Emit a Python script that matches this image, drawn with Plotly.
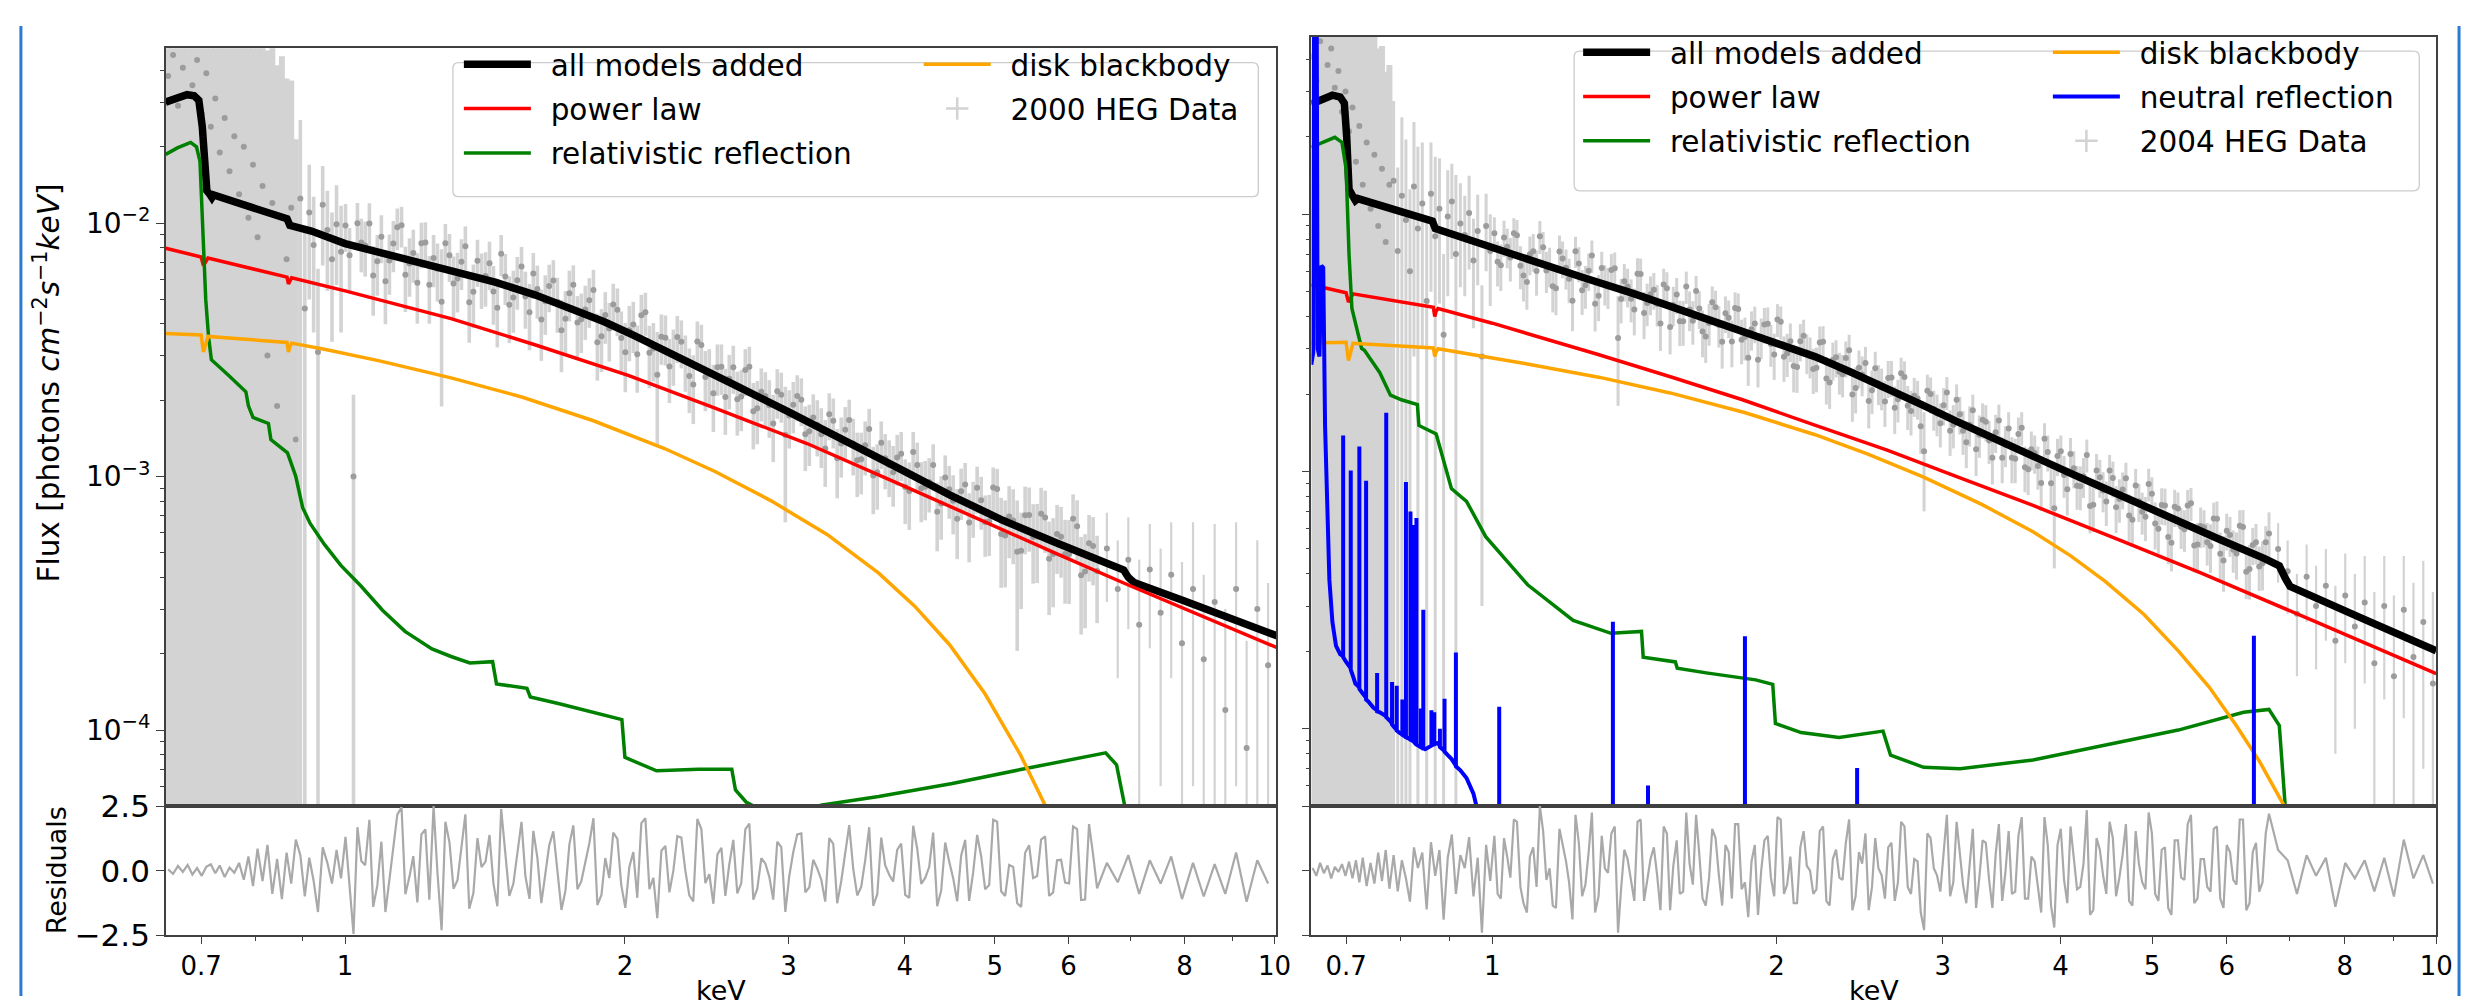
import numpy as np
import plotly.graph_objects as go

W, H = 2473, 1006


def px(x):
    return x / W


def py(y):
    return 1 - y / H


# ------------------------------------------------------------------ 2000 HEG data (left panel), bins set A
E_2000 = [
    0.645, 0.653, 0.661, 0.669, 0.677, 0.685, 0.693, 0.701, 0.709, 0.717,
    0.725, 0.733, 0.742, 0.751, 0.760, 0.769, 0.778, 0.787, 0.796, 0.805,
    0.815, 0.825, 0.835, 0.845, 0.855, 0.865, 0.875, 0.885,
    0.895, 0.905, 0.915, 0.925, 0.935, 0.946, 0.957, 0.968, 0.979, 0.990,
    1.001, 1.021, 1.041, 1.062, 1.083, 1.105, 1.127, 1.150, 1.173, 1.196,
    1.220, 1.245, 1.270, 1.295, 1.321, 1.347, 1.374, 1.402, 1.430, 1.458,
    1.487, 1.517, 1.548, 1.579, 1.610, 1.642, 1.675, 1.709, 1.743, 1.778,
    1.813, 1.850, 1.887, 1.924, 1.963, 2.002, 2.042, 2.083, 2.125, 2.167,
    2.211, 2.255, 2.300, 2.346, 2.393, 2.441, 2.490, 2.540, 2.590, 2.642,
    2.695, 2.749, 2.804, 2.860, 2.917, 2.976, 3.035, 3.096, 3.158, 3.221,
    3.285, 3.351, 3.418, 3.486, 3.556, 3.627, 3.700, 3.774, 3.849, 3.926,
    4.005, 4.085, 4.167, 4.250, 4.335, 4.422, 4.510, 4.600, 4.692, 4.786,
    4.882, 4.980, 5.079, 5.181, 5.285, 5.390, 5.498, 5.608, 5.720, 5.834,
    5.951, 6.070, 6.192, 6.315, 6.442,
    6.60, 6.78, 6.96, 7.15, 7.34, 7.54, 7.74, 7.95, 8.17, 8.39,
    8.62, 8.85, 9.09, 9.33, 9.58, 9.84,
]
F_2000 = [
    0.038, 0.046, 0.029, 0.041, 0.052, 0.035, 0.044, 0.027, 0.039, 0.024,
    0.031, 0.019, 0.026, 0.016, 0.022, 0.013, 0.020, 0.0105, 0.017, 0.0088,
    0.014, 0.0030, 0.012, 0.0019, 0.0105, 0.0072, 0.0115, 0.0014,
    0.0125, 0.0046, 0.0110, 0.0082, 0.0031, 0.0118, 0.0094, 0.0072, 0.0099, 0.0077,
    0.00979, 0.00100, 0.00839, 0.00996, 0.00707, 0.00589, 0.00830, 0.00981, 0.00692, 0.00581,
    0.00838, 0.00728, 0.00489, 0.00746, 0.00604, 0.00810, 0.00536, 0.00608, 0.00694, 0.00463,
    0.00615, 0.00509, 0.00674, 0.00445, 0.00549, 0.00492, 0.00594, 0.00378, 0.00529, 0.00405,
    0.00456, 0.00544, 0.00358, 0.00384, 0.00455, 0.00309, 0.00398, 0.00433, 0.00308, 0.00252,
    0.00353, 0.00304, 0.00340, 0.00249, 0.00341, 0.00247, 0.00213, 0.00271, 0.00243, 0.00202,
    0.00263, 0.00181, 0.00216, 0.00191, 0.00217, 0.00146, 0.00192, 0.00201, 0.00151, 0.00160,
    0.00129, 0.00166, 0.00135, 0.00167, 0.00116, 0.00133, 0.00101, 0.00136, 0.00111, 0.00119,
    0.000909, 0.00125, 0.000900, 0.000951, 0.000727, 0.000992, 0.000802, 0.000874, 0.000659, 0.000903,
    0.000662, 0.000906, 0.000594, 0.000696, 0.000505, 0.000703, 0.000578, 0.000713, 0.000474, 0.000593,
    0.000495, 0.000681, 0.000408, 0.000545, 0.000424,
    0.00052, 0.00036, 0.00047, 0.00026, 0.00043, 0.00029, 0.00041, 0.00022, 0.00036, 0.00019,
    0.00032, 0.00012, 0.00036, 0.000085, 0.00030, 0.00018,
]
ERR_2000 = [
    0.06, 0.06, 0.06, 0.06, 0.06, 0.06, 0.06, 0.06, 0.06, 0.05,
    0.05, 0.05, 0.05, 0.05, 0.05, 0.05, 0.05, 0.05, 0.05, 0.05,
    0.045, 0.045, 0.04, 0.04, 0.035, 0.03, 0.025, 0.02,
    0.013, 0.005, 0.006, 0.0045, 0.0035, 0.005, 0.004, 0.0038, 0.0042, 0.0040,
    0.0021, 0.0011, 0.0020, 0.0020, 0.0019, 0.0019, 0.0019, 0.0018, 0.0018, 0.0018,
    0.0017, 0.0017, 0.0030, 0.0016, 0.0016, 0.0016, 0.0015, 0.0015, 0.0015, 0.0014,
    0.0014, 0.0014, 0.0013, 0.0013, 0.0013, 0.0013, 0.0012, 0.0012, 0.0012, 0.0011,
    0.0011, 0.0011, 0.0010, 0.0010, 0.00097, 0.00094, 0.00091, 0.00088, 0.00085, 0.0012,
    0.00079, 0.00076, 0.00073, 0.00071, 0.00068, 0.00066, 0.00063, 0.00061, 0.00059, 0.00057,
    0.00055, 0.00053, 0.00051, 0.00049, 0.00048, 0.0008, 0.00044, 0.00043, 0.00041, 0.00040,
    0.00038, 0.00037, 0.00036, 0.00034, 0.00033, 0.00032, 0.00030, 0.00029, 0.00028, 0.00027,
    0.00026, 0.00025, 0.00024, 0.00023, 0.00022, 0.00022, 0.00021, 0.00020, 0.00020, 0.00019,
    0.00018, 0.00018, 0.00023, 0.00022, 0.00030, 0.00021, 0.00020, 0.00019, 0.00019, 0.00018,
    0.00018, 0.00017, 0.00017, 0.00016, 0.00016,
    0.00020, 0.00020, 0.00022, 0.00021, 0.00022, 0.00023, 0.00025, 0.00024, 0.00030, 0.00022,
    0.00033, 0.00018, 0.00030, 0.00014, 0.00026, 0.00020,
]
RES_2000 = [
    0.05, -0.12, 0.18, -0.05, 0.22, -0.15, 0.10, -0.20, 0.15, 0.25,
    -0.10, 0.20, -0.25, 0.12, -0.08, 0.30, -0.35, 0.55, -0.60, 0.85,
    -0.40, 1.00, -0.90, 0.45, -1.10, 0.70, -0.50, 1.20,
    0.6, -1.0, 0.5, -0.4, -1.6, 0.9, 0.3, -0.5, 0.8, -0.3,
    1.31, -2.45, 0.37, 1.97, -0.58, -1.60, 0.88, 2.45, -0.22, -1.23,
    1.60, 2.50, -2.30, 1.09, -0.37, 2.18, -0.88, 0.14, 1.38, -1.38,
    0.72, -0.51, 1.89, -1.09, 0.51, -0.14, 1.52, -1.52, 1.02, -0.72,
    0.29, 2.03, -0.94, -0.29, 1.23, -1.44, 0.72, 1.84, -0.72, -1.84,
    0.96, 0.0, 1.28, -0.96, 2.0, -0.48, -1.28, 0.88, 0.24, -0.88,
    1.6, -1.12, 0.48, -0.24, 1.12, -1.6, 0.72, 1.44, -0.64, 0.08,
    -1.2, 1.04, -0.4, 1.76, -0.96, 0.4, -1.36, 1.28, -0.16, 0.8,
    -0.94, 1.74, -0.51, 0.14, -1.38, 1.09, -0.29, 0.58, -1.17, 1.38,
    -0.72, 1.97, -0.8, 0.22, -1.26, 0.69, -0.29, 1.2, -0.98, 0.4,
    -0.46, 1.71, -1.14, 1.8, -0.69,
    0.3, -0.45, 0.6, -0.9, 0.4, -0.5, 0.55, -1.1, 0.3, -1.0,
    0.25, -0.9, 0.7, -1.2, 0.4, -0.5,
]

# ------------------------------------------------------------------ 2000 HEG data, bins set B (interleaved)
E_2000_B = [
    1.011, 1.031, 1.051, 1.072, 1.094, 1.116, 1.138, 1.161, 1.184, 1.208,
    1.232, 1.257, 1.282, 1.308, 1.334, 1.360, 1.388, 1.416, 1.444, 1.472,
    1.502, 1.532, 1.563, 1.594, 1.626, 1.658, 1.692, 1.726, 1.760, 1.795,
    1.831, 1.868, 1.905, 1.943, 1.982, 2.022, 2.062, 2.104, 2.146, 2.189,
    2.233, 2.277, 2.323, 2.369, 2.417, 2.465, 2.515, 2.565, 2.616, 2.668,
    2.722, 2.776, 2.832, 2.888, 2.946, 3.005, 3.065, 3.127, 3.189, 3.253,
    3.318, 3.384, 3.452, 3.521, 3.591, 3.663, 3.737, 3.811, 3.887, 3.965,
    4.045, 4.126, 4.208, 4.292, 4.378, 4.466, 4.555, 4.646, 4.739, 4.834,
    4.931, 5.029, 5.130, 5.233, 5.337, 5.444, 5.553, 5.664, 5.777, 5.892,
    6.010, 6.131, 6.253, 6.378,
]
F_2000_B = [
    0.00747, 0.00999, 0.00815, 0.00621, 0.00884, 0.00711, 0.00962, 0.00626, 0.00762, 0.00832,
    0.00571, 0.00660, 0.00832, 0.00578, 0.00704, 0.00487, 0.00710, 0.00618, 0.00537, 0.00757,
    0.00476, 0.00595, 0.00513, 0.00632, 0.00416, 0.00565, 0.00489, 0.00419, 0.00571, 0.00417,
    0.00496, 0.00339, 0.00434, 0.00477, 0.00352, 0.00378, 0.00304, 0.00445, 0.00320, 0.00356,
    0.00272, 0.00355, 0.00288, 0.00231, 0.00330, 0.00253, 0.00270, 0.00206, 0.00270, 0.00207,
    0.00271, 0.00186, 0.00208, 0.00162, 0.00210, 0.00174, 0.00208, 0.00147, 0.00171, 0.00147,
    0.00176, 0.00118, 0.00153, 0.00135, 0.00117, 0.00154, 0.00104, 0.00118, 0.00104, 0.00123,
    0.000876, 0.00111, 0.000912, 0.00111, 0.000783, 0.000891, 0.000682, 0.000931, 0.000763, 0.000807,
    0.000666, 0.000892, 0.000585, 0.000671, 0.000510, 0.000705, 0.000580, 0.000690, 0.000495, 0.000579,
    0.000494, 0.000636, 0.000422, 0.000532,
]
ERR_2000_B = [
    0.0021, 0.0020, 0.0020, 0.0019, 0.0019, 0.0019, 0.0018, 0.0018, 0.0018, 0.0017,
    0.0017, 0.0017, 0.0016, 0.0016, 0.0016, 0.0015, 0.0015, 0.0015, 0.0014, 0.0014,
    0.0014, 0.0014, 0.0013, 0.0013, 0.0013, 0.0012, 0.0012, 0.0012, 0.0011, 0.0011,
    0.0011, 0.0010, 0.0010, 0.00099, 0.00096, 0.00093, 0.00090, 0.00086, 0.00083, 0.00080,
    0.00077, 0.00075, 0.00072, 0.00070, 0.00067, 0.00065, 0.00062, 0.00060, 0.00058, 0.00056,
    0.00054, 0.00052, 0.00050, 0.00048, 0.00047, 0.00045, 0.00043, 0.00042, 0.00040, 0.00039,
    0.00037, 0.00036, 0.00035, 0.00034, 0.00032, 0.00031, 0.00030, 0.00029, 0.00028, 0.00027,
    0.00026, 0.00025, 0.00024, 0.00023, 0.00022, 0.00021, 0.00021, 0.00020, 0.00019, 0.00019,
    0.00018, 0.00018, 0.00022, 0.00022, 0.00021, 0.00020, 0.00020, 0.00019, 0.00019, 0.00018,
    0.00018, 0.00017, 0.00017, 0.00016,
]
RES_2000_B = [
    -0.63, 1.68, 0.21, -1.4, 1.12, -0.35, 2.17, -0.91, 0.56, 1.4,
    -1.12, -0.07, 1.89, -0.7, 0.84, -1.47, 1.26, 0.35, -0.49, 2.38,
    -0.98, 0.7, -0.21, 1.54, -1.26, 0.98, 0.07, -0.77, 1.75, -0.42,
    1.05, -1.33, 0.49, 1.47, -0.56, 0.14, -1.05, 2.03, -0.28, 0.77,
    -0.84, 1.33, 0.0, -1.19, 1.61, -0.14, 0.63, -0.98, 1.19, -0.49,
    1.82, -0.7, 0.28, -1.12, 0.91, -0.21, 1.4, -0.84, 0.42, -0.35,
    1.26, -1.26, 0.7, 0.07, -0.63, 1.68, -0.91, 0.21, -0.42, 1.05,
    -1.05, 0.84, -0.28, 1.47, -0.77, 0.35, -1.19, 1.19, -0.07, 0.56,
    -0.56, 1.89, -0.98, 0.14, -1.4, 0.98, -0.21, 1.33, -0.84, 0.42,
    -0.49, 1.61, -1.12, 0.63,
]

# ------------------------------------------------------------------ 2004 HEG data (right panel), bins set A
E_2004 = [
    0.645, 0.651, 0.657, 0.663, 0.669, 0.675, 0.681, 0.687, 0.693, 0.699,
    0.705, 0.711, 0.717, 0.723, 0.729, 0.736, 0.743, 0.750, 0.757, 0.764,
    0.771, 0.778,
    0.786, 0.794, 0.802, 0.810, 0.818, 0.826, 0.834, 0.843, 0.852, 0.861,
    0.870, 0.879, 0.888, 0.897, 0.906, 0.915, 0.925, 0.935, 0.945, 0.955,
    0.965, 0.975, 0.985, 0.995,
    1.005, 1.021, 1.037, 1.054, 1.071, 1.088, 1.105, 1.123, 1.141, 1.159,
    1.178, 1.197, 1.216, 1.235, 1.255, 1.275, 1.296, 1.316, 1.337, 1.359,
    1.380, 1.403, 1.425, 1.448, 1.471, 1.495, 1.519, 1.543, 1.568, 1.593,
    1.618, 1.644, 1.670, 1.697, 1.724, 1.752, 1.780, 1.808, 1.837, 1.867,
    1.897, 1.927, 1.958, 1.989, 2.021, 2.053, 2.086, 2.120, 2.154, 2.188,
    2.223, 2.259, 2.295, 2.332, 2.369, 2.407, 2.446, 2.485, 2.525, 2.565,
    2.606, 2.648, 2.690, 2.733, 2.777, 2.822, 2.867, 2.913, 2.959, 3.007,
    3.055, 3.104, 3.153, 3.204, 3.255, 3.307, 3.360, 3.414, 3.469, 3.524,
    3.581, 3.638, 3.696, 3.755, 3.815, 3.877, 3.939, 4.002, 4.066, 4.131,
    4.197, 4.264, 4.332, 4.402, 4.472, 4.544, 4.617, 4.691, 4.766, 4.842,
    4.920, 4.998, 5.078, 5.160, 5.242, 5.326, 5.411, 5.498, 5.586, 5.675,
    5.766, 5.858, 5.952, 6.047, 6.144, 6.242, 6.342, 6.443, 6.546, 6.651,
    6.80, 6.96, 7.12, 7.29, 7.46, 7.64, 7.82, 8.01, 8.20, 8.40,
    8.60, 8.81, 9.02, 9.24, 9.46, 9.69, 9.92,
]
F_2004 = [
    0.041, 0.033, 0.047, 0.028, 0.038, 0.044, 0.031, 0.036, 0.025, 0.030,
    0.021, 0.026, 0.016, 0.022, 0.013, 0.019, 0.0105, 0.017, 0.0090, 0.015,
    0.0078, 0.013,
    0.0135, 0.0072, 0.0118, 0.0095, 0.0060, 0.0128, 0.0088, 0.0110, 0.0046, 0.0120,
    0.0082, 0.0105, 0.0034, 0.0098, 0.0112, 0.0070, 0.0092, 0.0083, 0.0101, 0.0066,
    0.0086, 0.0028, 0.0090, 0.0072,
    0.00843, 0.00633, 0.00747, 0.00844, 0.00631, 0.00545, 0.00718, 0.00820, 0.00604, 0.00525,
    0.00716, 0.00619, 0.00461, 0.00643, 0.00529, 0.00691, 0.00482, 0.00537, 0.00607, 0.0033,
    0.00549, 0.00469, 0.00587, 0.00413, 0.00489, 0.00448, 0.00533, 0.00364, 0.00487, 0.00384,
    0.00426, 0.00503, 0.00350, 0.00378, 0.00435, 0.00319, 0.00396, 0.00432, 0.00325, 0.00277,
    0.00376, 0.00333, 0.00375, 0.00285, 0.00382, 0.00288, 0.00257, 0.00321, 0.00290, 0.00250,
    0.00317, 0.00230, 0.00271, 0.00244, 0.00276, 0.00199, 0.00253, 0.00264, 0.00207, 0.00220,
    0.00187, 0.00232, 0.00191, 0.00233, 0.00172, 0.00192, 0.00120, 0.00200, 0.00168, 0.00181,
    0.00144, 0.00190, 0.00144, 0.00152, 0.00122, 0.00159, 0.00132, 0.00142, 0.00113, 0.00147,
    0.00112, 0.00148, 0.00102, 0.00118, 0.000902, 0.00119, 0.00072, 0.00120, 0.000854, 0.00103,
    0.000877, 0.00116, 0.000743, 0.000950, 0.000764, 0.000943, 0.000782, 0.000942, 0.000649, 0.000767,
    0.000667, 0.000820, 0.000599, 0.000738, 0.000529, 0.000719, 0.000597, 0.000753, 0.000521, 0.000607,
    0.000513, 0.000655, 0.000451, 0.000566, 0.000480, 0.000608, 0.000418, 0.000531, 0.000440, 0.000574,
    0.00050, 0.00041, 0.00028, 0.00039, 0.00030, 0.00036, 0.00022, 0.00033, 0.00025, 0.00031,
    0.00018, 0.00030, 0.00016, 0.00029, 0.00019, 0.00026, 0.00015,
]
ERR_2004 = [
    0.06, 0.06, 0.06, 0.06, 0.06, 0.06, 0.06, 0.06, 0.06, 0.06,
    0.05, 0.05, 0.05, 0.05, 0.05, 0.05, 0.045, 0.04, 0.035, 0.03,
    0.028, 0.025,
    0.014, 0.008, 0.012, 0.010, 0.0065, 0.010, 0.0095, 0.008, 0.005, 0.007,
    0.0085, 0.006, 0.0036, 0.005, 0.0045, 0.0072, 0.004, 0.0035, 0.004, 0.003,
    0.0033, 0.0025, 0.003, 0.0028,
    0.0013, 0.0013, 0.0013, 0.0012, 0.0012, 0.0012, 0.0012, 0.0012, 0.0011, 0.0011,
    0.0011, 0.0011, 0.0011, 0.0010, 0.0010, 0.0010, 0.00098, 0.00096, 0.00094, 0.0015,
    0.00091, 0.00089, 0.00087, 0.00086, 0.00084, 0.00082, 0.00081, 0.00079, 0.00078, 0.00076,
    0.00075, 0.00073, 0.00072, 0.00070, 0.00069, 0.00068, 0.00066, 0.00065, 0.00064, 0.00062,
    0.00061, 0.00060, 0.00059, 0.00058, 0.00056, 0.00055, 0.00054, 0.00053, 0.00051, 0.00050,
    0.00049, 0.00048, 0.00046, 0.00045, 0.00044, 0.00043, 0.00042, 0.00041, 0.00040, 0.00039,
    0.00038, 0.00037, 0.00036, 0.00035, 0.00034, 0.00033, 0.0005, 0.00032, 0.00031, 0.00030,
    0.00029, 0.00028, 0.00028, 0.00027, 0.00026, 0.00025, 0.00025, 0.00024, 0.00023, 0.00023,
    0.00022, 0.00022, 0.00021, 0.00020, 0.00020, 0.00019, 0.0003, 0.00018, 0.00018, 0.00017,
    0.00017, 0.00017, 0.00016, 0.00016, 0.00015, 0.00015, 0.00015, 0.00014, 0.00014, 0.00013,
    0.00013, 0.00013, 0.00012, 0.00012, 0.00012, 0.00011, 0.00011, 0.00011, 0.00011, 0.00010,
    0.00011, 0.00011, 0.00011, 0.00010, 0.00010, 0.00010, 0.00010, 0.000095, 0.000095, 0.00012,
    0.00013, 0.00013, 0.00012, 0.00013, 0.00013, 0.00014, 0.00014, 0.00015, 0.00015, 0.00016,
    0.00016, 0.00017, 0.00017, 0.00018, 0.00018, 0.00019, 0.00019,
]
RES_2004 = [
    0.1, -0.2, 0.3, -0.1, 0.2, -0.3, 0.15, -0.05, 0.25, -0.2,
    0.35, -0.3, 0.4, -0.45, 0.5, -0.6, 0.3, -0.5, 0.7, -0.4,
    0.8, -0.7,
    0.6, -0.8, 0.4, -0.3, -1.2, 0.9, 0.1, 0.7, -1.5, 1.1,
    -0.2, 0.8, -1.9, 0.5, 1.4, -0.9, 0.6, 0.1, 1.3, -1.0,
    0.5, -2.4, 1.0, -0.4,
    1.35, -1.08, 0.54, 1.98, -0.63, -1.62, 0.9, 2.5, -0.36, -1.35,
    1.62, 0.36, -1.89, 1.08, -0.54, 2.25, -0.99, 0.09, 1.44, -2.4,
    0.81, -0.45, 1.89, -1.17, 0.45, -0.18, 1.71, -1.53, 1.17, -0.81,
    0.27, 2.16, -1.08, -0.27, 1.26, -1.35, 0.72, 1.8, -0.72, -1.8,
    0.99, 0.0, 1.35, -0.99, 1.98, -0.54, -1.26, 0.9, 0.18, -0.9,
    1.53, -1.17, 0.45, -0.27, 1.08, -1.53, 0.72, 1.44, -0.63, 0.09,
    -1.08, 1.08, -0.45, 1.71, -0.9, 0.36, -2.3, 1.26, -0.18, 0.81,
    -0.99, 1.89, -0.54, 0.18, -1.44, 1.17, -0.36, 0.63, -1.17, 1.53,
    -0.81, 2.07, -1.08, 0.36, -1.62, 0.99, -2.2, 1.62, -1.26, 0.54,
    -0.63, 2.34, -1.53, 0.81, -0.9, 1.26, -0.27, 1.8, -1.35, 0.27,
    -0.72, 1.44, -1.17, 0.9, -1.71, 1.17, -0.36, 2.16, -1.08, 0.45,
    -0.81, 1.71, -1.44, 0.72, -0.54, 1.98, -1.26, 1.08, -0.45, 2.2,
    0.8, 0.4, -0.9, 0.6, -0.2, 0.5, -1.4, 0.3, -0.3, 0.4,
    -0.8, 0.5, -1.0, 1.2, -0.3, 0.6, -0.5,
]

# ------------------------------------------------------------------ 2004 HEG data, bins set B (interleaved)
E_2004_B = [
    1.013, 1.029, 1.045, 1.062, 1.079, 1.096, 1.114, 1.132, 1.150, 1.168,
    1.187, 1.206, 1.225, 1.245, 1.265, 1.285, 1.306, 1.326, 1.348, 1.369,
    1.391, 1.414, 1.436, 1.459, 1.483, 1.507, 1.531, 1.555, 1.580, 1.605,
    1.631, 1.657, 1.683, 1.710, 1.738, 1.766, 1.794, 1.822, 1.852, 1.882,
    1.912, 1.942, 1.973, 2.005, 2.037, 2.069, 2.103, 2.137, 2.171, 2.205,
    2.241, 2.277, 2.313, 2.350, 2.388, 2.426, 2.465, 2.505, 2.545, 2.585,
    2.627, 2.669, 2.711, 2.755, 2.799, 2.844, 2.890, 2.936, 2.983, 3.031,
    3.079, 3.128, 3.178, 3.229, 3.281, 3.333, 3.387, 3.441, 3.496, 3.552,
    3.609, 3.667, 3.725, 3.785, 3.846, 3.908, 3.970, 4.034, 4.098, 4.164,
    4.230, 4.298, 4.367, 4.437, 4.508, 4.580, 4.654, 4.728, 4.804, 4.881,
    4.959, 5.038, 5.119, 5.201, 5.284, 5.368, 5.454, 5.542, 5.630, 5.720,
    5.812, 5.905, 5.999, 6.095, 6.193, 6.292, 6.392, 6.494, 6.598,
]
F_2004_B = [
    0.00653, 0.00812, 0.00678, 0.00829, 0.00578, 0.00699, 0.00602, 0.00743, 0.00630, 0.00515,
    0.00673, 0.00561, 0.00718, 0.00506, 0.00603, 0.00449, 0.00618, 0.00523, 0.00616, 0.00468,
    0.00524, 0.00426, 0.00586, 0.00452, 0.00508, 0.00376, 0.00515, 0.00444, 0.00384, 0.00523,
    0.00385, 0.00430, 0.00335, 0.00455, 0.00371, 0.00412, 0.00320, 0.00428, 0.00333, 0.00357,
    0.00272, 0.00373, 0.00313, 0.00390, 0.00279, 0.00321, 0.00255, 0.00337, 0.00281, 0.00253,
    0.00319, 0.00222, 0.00278, 0.00239, 0.00296, 0.00211, 0.00238, 0.00188, 0.00252, 0.00212,
    0.00231, 0.00177, 0.00241, 0.00180, 0.00197, 0.00150, 0.00206, 0.00175, 0.00154, 0.00203,
    0.00152, 0.00167, 0.00130, 0.00173, 0.00139, 0.00156, 0.00113, 0.00158, 0.00127, 0.00113,
    0.00140, 0.00104, 0.00122, 0.00105, 0.00134, 0.000901, 0.00115, 0.000970, 0.00117, 0.000880,
    0.000959, 0.000735, 0.00101, 0.000844, 0.00101, 0.000727, 0.000852, 0.000674, 0.000883, 0.000698,
    0.000895, 0.000628, 0.000741, 0.000556, 0.000729, 0.000610, 0.000738, 0.000516, 0.000614, 0.000531,
    0.000657, 0.000479, 0.000589, 0.000497, 0.000616, 0.000408, 0.000518, 0.000427, 0.000531,
]
ERR_2004_B = [
    0.0013, 0.0013, 0.0013, 0.0012, 0.0012, 0.0012, 0.0012, 0.0011, 0.0011, 0.0011,
    0.0011, 0.0011, 0.0010, 0.0010, 0.0010, 0.00099, 0.00097, 0.00095, 0.00093, 0.00092,
    0.00090, 0.00088, 0.00086, 0.00085, 0.00083, 0.00082, 0.00080, 0.00078, 0.00077, 0.00075,
    0.00074, 0.00072, 0.00071, 0.00069, 0.00068, 0.00067, 0.00066, 0.00064, 0.00063, 0.00062,
    0.00060, 0.00059, 0.00058, 0.00057, 0.00056, 0.00055, 0.00053, 0.00052, 0.00051, 0.00050,
    0.00048, 0.00047, 0.00046, 0.00045, 0.00044, 0.00043, 0.00042, 0.00041, 0.00040, 0.00039,
    0.00038, 0.00037, 0.00036, 0.00035, 0.00034, 0.00033, 0.00032, 0.00031, 0.00030, 0.00030,
    0.00029, 0.00028, 0.00027, 0.00026, 0.00026, 0.00025, 0.00024, 0.00024, 0.00023, 0.00023,
    0.00022, 0.00021, 0.00021, 0.00020, 0.00020, 0.00019, 0.00019, 0.00018, 0.00018, 0.00017,
    0.00017, 0.00016, 0.00016, 0.00015, 0.00015, 0.00015, 0.00014, 0.00014, 0.00014, 0.00013,
    0.00013, 0.00013, 0.00012, 0.00012, 0.00012, 0.00011, 0.00011, 0.00011, 0.00011, 0.00010,
    0.00010, 0.00010, 0.000096, 0.000093, 0.000091, 0.000089, 0.000086, 0.000084, 0.000082,
]
RES_2004_B = [
    -0.9, 1.26, -0.27, 1.89, -1.26, 0.54, -0.63, 1.53, 0.09, -1.44,
    1.08, -0.45, 2.16, -0.99, 0.72, -1.62, 1.35, -0.09, 1.71, -0.72,
    0.45, -1.17, 1.98, -0.36, 0.9, -1.53, 1.44, 0.18, -0.9, 2.25,
    -0.54, 0.63, -1.35, 1.62, -0.18, 0.99, -1.08, 1.8, -0.45, 0.36,
    -1.71, 1.17, -0.27, 2.07, -0.9, 0.54, -1.26, 1.53, 0.0, -0.72,
    1.71, -1.35, 0.81, -0.36, 1.98, -0.99, 0.27, -1.53, 1.26, -0.18,
    0.9, -1.17, 1.89, -0.63, 0.45, -1.62, 1.44, 0.09, -0.81, 2.16,
    -0.45, 0.72, -1.26, 1.62, -0.27, 1.08, -1.44, 1.8, -0.09, -0.9,
    1.35, -1.08, 0.54, -0.54, 2.07, -1.35, 0.99, -0.36, 1.71, -0.72,
    0.27, -1.71, 1.26, -0.18, 1.89, -0.99, 0.63, -1.17, 1.53, -0.45,
    2.25, -0.9, 0.81, -1.44, 1.17, -0.27, 1.8, -1.26, 0.45, -0.63,
    1.62, -1.08, 0.99, -0.36, 1.98, -1.53, 0.72, -0.81, 1.44,
]

# ------------------------------------------------------------------ model components, 2000
E_TOT_2000 = [0.641, 0.660, 0.676, 0.688, 0.696, 0.702, 0.706, 0.710, 0.715, 0.719,
              0.722, 0.765, 0.820, 0.866, 0.872, 0.920, 1.0, 1.15, 1.3, 1.45,
              1.6, 1.75, 1.9, 2.05, 2.2, 2.4, 2.63, 3.0, 3.43, 3.9,
              4.47, 5.1, 5.82, 6.3, 6.70, 6.88, 6.96, 7.06, 8.0, 9.0,
              10.1]
F_TOT_2000 = [0.0300, 0.0312, 0.0321, 0.0318, 0.0305, 0.0240, 0.0160, 0.0134, 0.0130, 0.0126,
              0.0129, 0.0120, 0.0112, 0.0104, 0.0098, 0.0093, 0.0083, 0.00727, 0.00647, 0.00585,
              0.00521, 0.00462, 0.00408, 0.00359, 0.00317, 0.00270, 0.00229, 0.00180, 0.00141, 0.00110,
              0.000847, 0.000672, 0.000548, 0.000488, 0.000448, 0.000428, 0.000400, 0.000382, 0.000323, 0.000273,
              0.000234]
E_PL_2000 = [0.641, 0.700, 0.704, 0.707, 0.712, 0.866, 0.869, 0.872, 0.876, 1.0,
             1.15, 1.3, 1.6, 2.02, 2.5, 3.14, 4.0, 4.88, 5.8, 6.94,
             8.3, 10.1]
F_PL_2000 = [0.00796, 0.00735, 0.00680, 0.00700, 0.00728, 0.00612, 0.00575, 0.00590, 0.00608, 0.00540,
             0.00471, 0.00420, 0.00331, 0.00250, 0.00186, 0.00135, 0.000915, 0.000660, 0.000500, 0.000375,
             0.000285, 0.000210]
E_REL_2000 = [0.641, 0.660, 0.682, 0.692, 0.698, 0.703, 0.708, 0.713, 0.718, 0.749,
              0.782, 0.787, 0.796, 0.827, 0.832, 0.867, 0.885, 0.900, 0.917, 0.950,
              0.989, 1.04, 1.097, 1.16, 1.24, 1.30, 1.362, 1.441, 1.455, 1.569,
              1.582, 1.70, 1.807, 1.985, 2.0, 2.163, 2.40, 2.606, 2.63, 2.70,
              2.81, 2.95, 3.10, 3.25, 3.75, 4.5, 5.33, 6.0, 6.58, 6.76,
              6.90, 6.97]
F_REL_2000 = [0.01867, 0.0198, 0.0208, 0.0200, 0.0175, 0.0100, 0.0050, 0.00356, 0.00289, 0.00251,
              0.00216, 0.00190, 0.00171, 0.00162, 0.00140, 0.00124, 0.00100, 0.000755, 0.000653, 0.00054,
              0.000447, 0.00037, 0.000297, 0.000245, 0.000209, 0.000195, 0.000184, 0.000186, 0.000152, 0.000146,
              0.000135, 0.000127, 0.000120, 0.000110, 0.000078, 0.000069, 0.0000700, 0.0000700, 0.000058, 0.000052,
              0.0000480, 0.000044, 0.000045, 0.0000505, 0.0000547, 0.0000615, 0.0000698, 0.0000760, 0.0000813, 0.0000729,
              0.000050, 0.000030]
E_DBB_2000 = [0.641, 0.700, 0.704, 0.707, 0.712, 0.866, 0.869, 0.872, 0.876, 0.95,
              1.089, 1.3, 1.549, 1.85, 2.206, 2.5, 2.873, 3.3, 3.75, 4.1,
              4.47, 4.88, 5.33, 5.72, 6.1]
F_DBB_2000 = [0.00367, 0.00362, 0.00310, 0.00330, 0.00357, 0.00338, 0.00310, 0.00325, 0.00336, 0.00318,
              0.00286, 0.00245, 0.00206, 0.00166, 0.00129, 0.001047, 0.000802, 0.000591, 0.000416, 0.000308,
              0.000217, 0.000139, 0.0000796, 0.0000469, 0.0000268]

# ------------------------------------------------------------------ model components, 2004
E_TOT_2004 = [0.643, 0.660, 0.677, 0.690, 0.697, 0.701, 0.705, 0.712, 0.716, 0.720,
              0.815, 0.864, 0.870, 1.082, 1.25, 1.412, 1.70, 2.01, 2.2, 2.4,
              2.62, 2.85, 3.10, 3.4, 3.74, 4.1, 4.50, 4.9, 5.33, 5.9,
              6.59, 6.82, 6.92, 7.00, 8.3, 10.0]
F_TOT_2004 = [0.0268, 0.0280, 0.0290, 0.0285, 0.0270, 0.0200, 0.0125, 0.0117, 0.0113, 0.0115,
              0.0100, 0.0094, 0.0088, 0.0067, 0.00566, 0.00491, 0.00390, 0.00316, 0.00279, 0.00243,
              0.00211, 0.00182, 0.00157, 0.00134, 0.00114, 0.000983, 0.000846, 0.000733, 0.000637, 0.000544,
              0.000458, 0.000430, 0.000385, 0.000358, 0.000271, 0.000201]
E_PL_2004 = [0.643, 0.700, 0.704, 0.707, 0.712, 0.866, 0.869, 0.872, 0.876, 1.0,
             1.292, 1.55, 1.841, 2.2, 2.62, 3.1, 3.74, 4.6, 5.63, 7.5,
             10.0]
F_PL_2004 = [0.00532, 0.00495, 0.00455, 0.00470, 0.00490, 0.00435, 0.00400, 0.00420, 0.00430, 0.00377,
             0.002855, 0.002324, 0.00190, 0.00151, 0.00121, 0.000957, 0.000738, 0.000545, 0.000404, 0.000258,
             0.000164]
E_REL_2004 = [0.643, 0.660, 0.681, 0.693, 0.700, 0.705, 0.710, 0.727, 0.732, 0.760,
              0.780, 0.801, 0.833, 0.836, 0.872, 0.905, 0.939, 0.984, 1.09, 1.218,
              1.336, 1.439, 1.445, 1.563, 1.570, 1.685, 1.901, 1.982, 1.995, 2.124,
              2.33, 2.594, 2.642, 2.864, 3.13, 3.74, 4.46, 5.33, 6.25, 6.65,
              6.82, 6.95]
F_REL_2004 = [0.0182, 0.0190, 0.0199, 0.0190, 0.0150, 0.0070, 0.0043, 0.00301, 0.00296, 0.00242,
              0.00198, 0.00190, 0.00182, 0.00151, 0.00140, 0.000859, 0.000766, 0.000558, 0.000363, 0.000264,
              0.000235, 0.000239, 0.000190, 0.000182, 0.000172, 0.000165, 0.000155, 0.000149, 0.000105, 0.0000967,
              0.0000926, 0.0000980, 0.0000790, 0.0000709, 0.0000700, 0.0000757, 0.0000866, 0.0000989, 0.000116, 0.000119,
              0.000103, 0.0000400]
E_DBB_2004 = [0.643, 0.700, 0.704, 0.707, 0.712, 0.866, 0.869, 0.872, 0.876, 1.082,
              1.3, 1.543, 1.85, 2.198, 2.5, 2.864, 3.3, 3.74, 4.1, 4.46,
              4.9, 5.33, 5.75, 6.14, 6.5, 6.89, 7.10]
F_DBB_2004 = [0.00316, 0.00318, 0.00270, 0.00290, 0.00315, 0.00302, 0.00280, 0.00292, 0.00300, 0.00263,
              0.002321, 0.00202, 0.001695, 0.00139, 0.001169, 0.000951, 0.000745, 0.000583, 0.000470, 0.000374,
              0.000279, 0.000201, 0.000145, 0.000103, 0.0000746, 0.0000508, 0.0000400]
E_NR_2004 = [0.643, 0.646, 0.648, 0.651, 0.653, 0.656, 0.659, 0.662, 0.665, 0.668,
             0.672, 0.677, 0.683, 0.690, 0.695, 0.695, 0.695, 0.700, 0.704, 0.708,
             0.708, 0.708, 0.712, 0.716, 0.723, 0.723, 0.723, 0.728, 0.735, 0.735,
             0.735, 0.740, 0.748, 0.755, 0.755, 0.755, 0.760, 0.766, 0.772, 0.772,
             0.772, 0.778, 0.783, 0.783, 0.783, 0.788, 0.792, 0.792, 0.792, 0.797,
             0.803, 0.803, 0.803, 0.806, 0.810, 0.810, 0.810, 0.814, 0.819, 0.819,
             0.819, 0.823, 0.826, 0.826, 0.826, 0.828, 0.831, 0.831, 0.831, 0.835,
             0.840, 0.840, 0.840, 0.845, 0.845, 0.845, 0.850, 0.858, 0.862, 0.862,
             0.862, 0.868, 0.868, 0.868, 0.875, 0.880, 0.880, 0.880, 0.890, 0.890,
             0.890, 0.897, 0.905, 0.915, 0.915, 0.915, 0.925, 0.939, 0.955, 0.965,
             0.980, 1.017, 1.017, 1.017, 1.342, 1.342, 1.342, 1.462, 1.462, 1.462,
             1.852, 1.852, 1.852, 2.435, 2.435, 2.435, 6.41, 6.41, 6.41, 10.0]
F_NR_2004 = [0.0026, 0.0029, 0.2, 0.2, 0.0030, 0.0028, 0.0063, 0.0062, 0.0015, 0.00070,
             0.00038, 0.00026, 0.00021, 0.000195, 0.000192, 0.00138, 0.000190, 0.000182, 0.000178, 0.000172,
             0.00101, 0.000170, 0.000160, 0.000150, 0.000145, 0.00125, 0.000143, 0.000138, 0.000132, 0.00092,
             0.000130, 0.000127, 0.000121, 0.000118, 0.000165, 0.000117, 0.000116, 0.000114, 0.000112, 0.00169,
             0.000111, 0.000108, 0.000105, 0.000152, 0.000104, 0.000101, 0.0000990, 0.000147, 0.0000985, 0.0000966,
             0.0000950, 0.000130, 0.0000948, 0.0000940, 0.0000930, 0.00091, 0.0000928, 0.0000920, 0.0000910, 0.00070,
             0.0000908, 0.0000900, 0.0000890, 0.00062, 0.0000888, 0.0000880, 0.0000870, 0.00066, 0.0000868, 0.0000860,
             0.0000850, 0.000120, 0.0000848, 0.0000840, 0.00029, 0.0000838, 0.0000835, 0.0000850, 0.0000860, 0.000118,
             0.0000862, 0.0000870, 0.000116, 0.0000872, 0.0000880, 0.0000860, 0.000100, 0.0000850, 0.0000820, 0.000131,
             0.0000815, 0.0000790, 0.0000765, 0.0000720, 0.000198, 0.0000715, 0.0000690, 0.0000644, 0.0000560, 0.0000480,
             0.0000380, 0.0000300, 0.000122, 0.0000300, 0.0000300, 0.000261, 0.0000300, 0.0000300, 0.0000603, 0.0000300,
             0.0000300, 0.000229, 0.0000300, 0.0000300, 0.0000705, 0.0000300, 0.0000300, 0.000230, 0.0000300, 0.0000300]

# ------------------------------------------------------------------ axis ticks
X_TICKS = [0.7, 1, 2, 3, 4, 5, 6, 8, 10]
X_TICKTEXT = ["0.7", "1", "2", "3", "4", "5", "6", "8", "10"]
X_MINOR = [0.8, 0.9, 7, 9]
Y_TICKS = [1e-4, 1e-3, 1e-2]
Y_TICKTEXT = ["10<sup>−4</sup>", "10<sup>−3</sup>", "10<sup>−2</sup>"]
Y_MINOR = [6e-5, 7e-5, 8e-5, 9e-5, 2e-4, 3e-4, 4e-4, 5e-4, 6e-4, 7e-4, 8e-4, 9e-4,
           2e-3, 3e-3, 4e-3, 5e-3, 6e-3, 7e-3, 8e-3, 9e-3, 2e-2, 3e-2, 4e-2]
R_TICKS = [-2.5, 0.0, 2.5]
R_TICKTEXT = ["−2.5", "0.0", "2.5"]

# ------------------------------------------------------------------ styling
FONT = "DejaVu Sans"
C_TOT, C_PL, C_REL, C_DBB, C_NR = "#000000", "#ff0000", "#008000", "#ffa500", "#0000ff"
C_DOT, C_ERR = "#9c9c9c", "#d3d3d3"
C_AX = "#404040"

fig = go.Figure()


def merged(*cols):
    arrs = [np.concatenate([np.asarray(a, dtype=float) for a in c]) for c in cols]
    order = np.argsort(arrs[0], kind="stable")
    return [a[order] for a in arrs]


def add_data(E, F, ERR, cut_lo, cut_hi, th_mid, xa, ya):
    parts = ((E < cut_lo, 6), ((E >= cut_lo) & (E < cut_hi), th_mid), (E >= cut_hi, 2.2))
    for mask, th in parts:
        fig.add_trace(go.Scatter(
            x=E[mask], y=F[mask], mode="markers", xaxis=xa, yaxis=ya,
            marker=dict(color=C_DOT, size=6),
            error_y=dict(type="data", array=ERR[mask], color=C_ERR, thickness=th, width=0),
            showlegend=False, hoverinfo="skip"))


def add_resid(E, R, xa, ya):
    fig.add_trace(go.Scatter(x=E, y=R, mode="lines", xaxis=xa, yaxis=ya,
                             line=dict(color="#a9a9a9", width=2.2),
                             showlegend=False, hoverinfo="skip"))


def add_model(E, F, name, color, width, xa, ya, legend, group):
    fig.add_trace(go.Scatter(x=E, y=F, mode="lines", name=name, xaxis=xa, yaxis=ya,
                             line=dict(color=color, width=width),
                             legend=legend, legendgroup=group, hoverinfo="skip"))


def add_data_key(name, legend, group):
    fig.add_trace(go.Scatter(x=[None], y=[None], mode="markers", name=name,
                             marker=dict(symbol="cross-thin", size=16, color=C_ERR,
                                         line=dict(color=C_ERR, width=2.5)),
                             legend=legend, legendgroup=group, xaxis="x", yaxis="y"))


E00, F00, ER00, R00 = merged((E_2000, E_2000_B), (F_2000, F_2000_B),
                             (ERR_2000, ERR_2000_B), (RES_2000, RES_2000_B))
E04, F04, ER04, R04 = merged((E_2004, E_2004_B), (F_2004, F_2004_B),
                             (ERR_2004, ERR_2004_B), (RES_2004, RES_2004_B))

SP = "\u2002"
# left panel
add_data(E00, F00, ER00, 0.89, 6.5, 3.6, "x", "y")
add_model(E_TOT_2000, F_TOT_2000, SP + "all models added", C_TOT, 7.5, "x", "y", "legend", "a1")
add_model(E_PL_2000, F_PL_2000, SP + "power law", C_PL, 3.5, "x", "y", "legend", "a2")
add_model(E_REL_2000, F_REL_2000, SP + "relativistic reflection", C_REL, 3.5, "x", "y", "legend", "a3")
add_model(E_DBB_2000, F_DBB_2000, SP + "disk blackbody", C_DBB, 3.5, "x", "y", "legend2", "a4")
add_data_key(SP + "2000 HEG Data", "legend2", "a5")
add_resid(E00, R00, "x2", "y2")

# right panel
add_data(E04, F04, ER04, 0.782, 6.7, 3.0, "x3", "y3")
add_model(E_TOT_2004, F_TOT_2004, SP + "all models added", C_TOT, 7.5, "x3", "y3", "legend3", "b1")
add_model(E_PL_2004, F_PL_2004, SP + "power law", C_PL, 3.5, "x3", "y3", "legend3", "b2")
add_model(E_REL_2004, F_REL_2004, SP + "relativistic reflection", C_REL, 3.5, "x3", "y3", "legend3", "b3")
add_model(E_DBB_2004, F_DBB_2004, SP + "disk blackbody", C_DBB, 3.5, "x3", "y3", "legend4", "b4")
add_model(E_NR_2004, F_NR_2004, SP + "neutral reflection", C_NR, 4, "x3", "y3", "legend4", "b5")
add_data_key(SP + "2004 HEG Data", "legend4", "b6")
add_resid(E04, R04, "x4", "y4")

# ------------------------------------------------------------------ axes
LX = [px(159), px(1277)]
RX = [px(1312.5), px(2445)]
LMAIN = [py(809), py(23)]
RMAIN = [py(809), py(11)]
RESID = [py(943), py(809)]
XRANGE_L = [np.log10(0.6415), np.log10(10.04)]
XRANGE_R = [np.log10(0.6433), np.log10(10.0)]
YRANGE = [-4.300, -1.310]

axline = dict(showline=True, linecolor=C_AX, linewidth=1.6, mirror=True,
              showgrid=False, zeroline=False)
tickfont_x = dict(family=FONT, size=26, color="black")
tickfont_y = dict(family=FONT, size=28, color="black")
tickfont_r = dict(family=FONT, size=31, color="black")


def main_x(domain, rng, anchor):
    return dict(type="log", domain=domain, range=rng, anchor=anchor,
                showticklabels=False, ticks="", **axline)


def resid_x(domain, rng, anchor):
    return dict(type="log", domain=domain, range=rng, anchor=anchor,
                tickmode="array", tickvals=X_TICKS, ticktext=X_TICKTEXT,
                ticks="outside", ticklen=7, tickwidth=1.3, tickcolor=C_AX,
                minor=dict(tickmode="array", tickvals=X_MINOR, ticks="outside",
                           ticklen=4, tickwidth=1, tickcolor=C_AX),
                tickfont=tickfont_x, **axline)


def main_y(domain, anchor, labels):
    return dict(type="log", domain=domain, range=YRANGE, anchor=anchor,
                tickmode="array", tickvals=Y_TICKS, ticktext=Y_TICKTEXT,
                showticklabels=labels,
                ticks="outside", ticklen=8, tickwidth=1.3, tickcolor=C_AX,
                minor=dict(tickmode="array", tickvals=Y_MINOR, ticks="outside",
                           ticklen=4, tickwidth=1, tickcolor=C_AX),
                tickfont=tickfont_y, **axline)


def resid_y(domain, anchor, labels):
    return dict(domain=domain, range=[-2.5, 2.5], anchor=anchor,
                tickmode="array", tickvals=R_TICKS, ticktext=R_TICKTEXT,
                showticklabels=labels,
                ticks="outside", ticklen=8, tickwidth=1.3, tickcolor=C_AX,
                tickfont=tickfont_r, **axline)


legend_common = dict(xanchor="left", yanchor="top", bgcolor="rgba(0,0,0,0)",
                     borderwidth=0, itemwidth=67, tracegroupgap=3,
                     font=dict(family=FONT, size=29.5, color="black"))


def rounded_box(x0, y0, x1, y1, r=6):
    X0, X1 = px(x0), px(x1)
    Y0, Y1 = py(y0), py(y1)
    rx, ry = r / W, r / H
    path = (f"M{X0 + rx},{Y0} L{X1 - rx},{Y0} Q{X1},{Y0} {X1},{Y0 - ry} "
            f"L{X1},{Y1 + ry} Q{X1},{Y1} {X1 - rx},{Y1} L{X0 + rx},{Y1} "
            f"Q{X0},{Y1} {X0},{Y1 + ry} L{X0},{Y0 - ry} Q{X0},{Y0} {X0 + rx},{Y0} Z")
    return dict(type="path", xref="paper", yref="paper", path=path, layer="above",
                fillcolor="rgba(255,255,255,0.85)", line=dict(color="#cccccc", width=1.3))


shapes = [
    rounded_box(448, 38, 1259, 177),
    rounded_box(1577, 26, 2428, 171),
    dict(type="line", xref="paper", yref="paper", x0=px(13), x1=px(13), y0=0, y1=1,
         line=dict(color="#2a7bd2", width=3)),
    dict(type="line", xref="paper", yref="paper", x0=px(2468), x1=px(2468), y0=0, y1=1,
         line=dict(color="#2a7bd2", width=3)),
]

annotations = [
    dict(text="Flux [photons <i>cm</i><sup>−2</sup><i>s</i><sup>−1</sup><i>keV</i>]",
         x=px(39), y=py(370), xref="paper", yref="paper", textangle=-90,
         showarrow=False, font=dict(family=FONT, size=29.5, color="black"),
         xanchor="center", yanchor="middle"),
    dict(text="Residuals", x=px(49), y=py(876), xref="paper", yref="paper", textangle=-90,
         showarrow=False, font=dict(family=FONT, size=27, color="black"),
         xanchor="center", yanchor="middle"),
    dict(text="keV", x=px(718), y=py(1000), xref="paper", yref="paper", showarrow=False,
         font=dict(family=FONT, size=27, color="black"), xanchor="center", yanchor="middle"),
    dict(text="keV", x=px(1879), y=py(1000), xref="paper", yref="paper", showarrow=False,
         font=dict(family=FONT, size=27, color="black"), xanchor="center", yanchor="middle"),
]

fig.update_layout(
    width=W, height=H, autosize=False,
    margin=dict(l=0, r=0, t=0, b=0),
    paper_bgcolor="white", plot_bgcolor="white",
    font=dict(family=FONT, color="black"),
    xaxis=main_x(LX, XRANGE_L, "y"),
    yaxis=main_y(LMAIN, "x", True),
    xaxis2=resid_x(LX, XRANGE_L, "y2"),
    yaxis2=resid_y(RESID, "x2", True),
    xaxis3=main_x(RX, XRANGE_R, "y3"),
    yaxis3=main_y(RMAIN, "x3", False),
    xaxis4=resid_x(RX, XRANGE_R, "y4"),
    yaxis4=resid_y(RESID, "x4", False),
    legend=dict(x=px(454), y=py(13), **legend_common),
    legend2=dict(x=px(917), y=py(13), **legend_common),
    legend3=dict(x=px(1581), y=py(0.5), **legend_common),
    legend4=dict(x=px(2054), y=py(0.5), **legend_common),
    shapes=shapes,
    annotations=annotations,
    hovermode=False,
)

fig.write_html("out.html")
